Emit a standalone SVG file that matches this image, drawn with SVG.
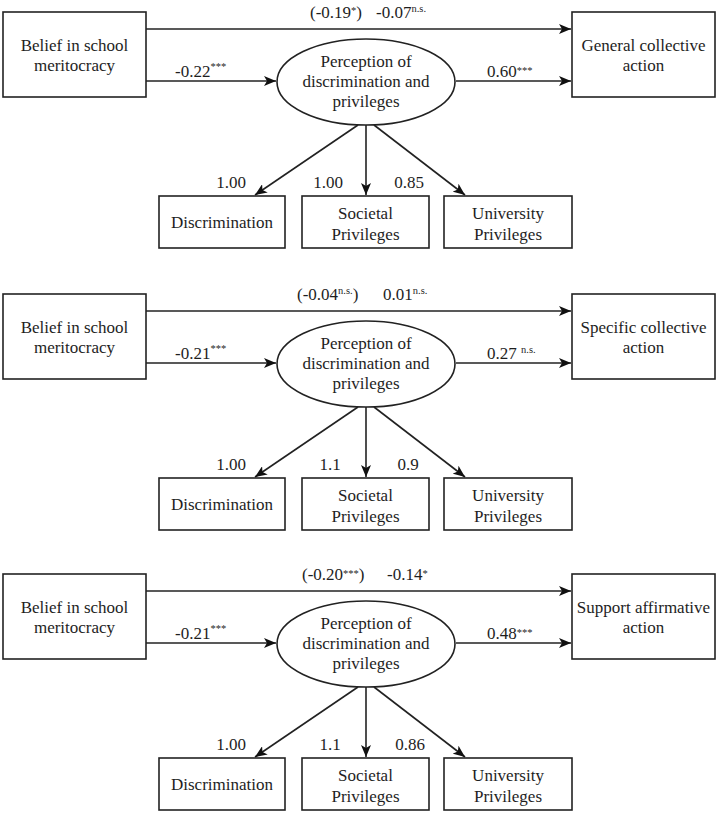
<svg xmlns="http://www.w3.org/2000/svg" width="718" height="819" viewBox="0 0 718 819" font-family="Liberation Serif, serif">
<style>
text{font-family:'Liberation Serif',serif;font-size:17px;fill:#1e1e1e}
.c{text-anchor:middle}
.s{font-size:10.5px}
.box{fill:#fff;stroke:#222;stroke-width:1.6}
.ell{fill:#fff;stroke:#222;stroke-width:1.6}
.ln{stroke:#222;stroke-width:1.6;fill:none;marker-end:url(#ah)}
</style>
<defs>
<marker id="ah" viewBox="0 0 12 10" refX="12" refY="5" markerWidth="12" markerHeight="10" orient="auto" markerUnits="userSpaceOnUse"><path d="M0,0 L12,5 L0,10 L3,5 z" fill="#111"/></marker>
</defs>

<!-- Panel 1 -->
<g id="panel1">
<g id="p1-connectors">
<line class="ln" x1="146" y1="29" x2="571" y2="29"/>
<line class="ln" x1="146" y1="81" x2="276" y2="81"/>
<line class="ln" x1="456" y1="81" x2="571" y2="81"/>
<line class="ln" x1="358" y1="125" x2="255" y2="195"/>
<line class="ln" x1="366" y1="125" x2="366" y2="195"/>
<line class="ln" x1="374" y1="125" x2="465" y2="195"/>
<text x="310" y="18">(-0.19<tspan class="s" dy="-4">*</tspan><tspan dy="4">)</tspan></text>
<text x="376" y="18">-0.07<tspan class="s" dy="-6">n.s.</tspan></text>
<text x="175" y="77">-0.22<tspan class="s" dy="-7">***</tspan></text>
<text x="487" y="77">0.60<tspan class="s" dy="-3">***</tspan></text>
<text class="c" x="231" y="188">1.00</text>
<text class="c" x="328" y="188">1.00</text>
<text class="c" x="409" y="188">0.85</text>
</g>
<g id="p1-belief"><rect class="box" x="3" y="12" width="143" height="85"/><text class="c" x="74.5" y="51">Belief in school</text><text class="c" x="74.5" y="71">meritocracy</text></g>
<g id="p1-outcome"><rect class="box" x="572" y="12" width="143" height="85"/><text class="c" x="643.5" y="51">General collective</text><text class="c" x="643.5" y="71">action</text></g>
<g id="p1-perception"><ellipse class="ell" cx="366" cy="82" rx="89" ry="43"/><text class="c" x="366" y="67">Perception of</text><text class="c" x="366" y="87">discrimination and</text><text class="c" x="366" y="107">privileges</text></g>
<g id="p1-discrimination"><rect class="box" x="159" y="196" width="126" height="52"/><text class="c" x="222" y="228">Discrimination</text></g>
<g id="p1-societal"><rect class="box" x="302" y="196" width="127" height="52"/><text class="c" x="365.5" y="219">Societal</text><text class="c" x="365.5" y="240">Privileges</text></g>
<g id="p1-university"><rect class="box" x="444" y="196" width="128" height="52"/><text class="c" x="508" y="219">University</text><text class="c" x="508" y="240">Privileges</text></g>
</g>

<!-- Panel 2 -->
<g id="panel2" transform="translate(0,282)">
<g id="p2-connectors">
<line class="ln" x1="146" y1="29" x2="571" y2="29"/>
<line class="ln" x1="146" y1="81" x2="276" y2="81"/>
<line class="ln" x1="456" y1="81" x2="571" y2="81"/>
<line class="ln" x1="358" y1="125" x2="255" y2="195"/>
<line class="ln" x1="366" y1="125" x2="366" y2="195"/>
<line class="ln" x1="374" y1="125" x2="465" y2="195"/>
<text x="297" y="18">(-0.04<tspan class="s" dy="-6">n.s.</tspan><tspan dy="6">)</tspan></text>
<text x="383" y="18">0.01<tspan class="s" dy="-6">n.s.</tspan></text>
<text x="175" y="77">-0.21<tspan class="s" dy="-7">***</tspan></text>
<text x="487" y="77">0.27 <tspan class="s" dy="-6">n.s.</tspan></text>
<text class="c" x="231" y="188">1.00</text>
<text class="c" x="330" y="188">1.1</text>
<text class="c" x="408" y="188">0.9</text>
</g>
<g id="p2-belief"><rect class="box" x="3" y="12" width="143" height="85"/><text class="c" x="74.5" y="51">Belief in school</text><text class="c" x="74.5" y="71">meritocracy</text></g>
<g id="p2-outcome"><rect class="box" x="572" y="12" width="143" height="85"/><text class="c" x="643.5" y="51">Specific collective</text><text class="c" x="643.5" y="71">action</text></g>
<g id="p2-perception"><ellipse class="ell" cx="366" cy="82" rx="89" ry="43"/><text class="c" x="366" y="67">Perception of</text><text class="c" x="366" y="87">discrimination and</text><text class="c" x="366" y="107">privileges</text></g>
<g id="p2-discrimination"><rect class="box" x="159" y="196" width="126" height="52"/><text class="c" x="222" y="228">Discrimination</text></g>
<g id="p2-societal"><rect class="box" x="302" y="196" width="127" height="52"/><text class="c" x="365.5" y="219">Societal</text><text class="c" x="365.5" y="240">Privileges</text></g>
<g id="p2-university"><rect class="box" x="444" y="196" width="128" height="52"/><text class="c" x="508" y="219">University</text><text class="c" x="508" y="240">Privileges</text></g>
</g>

<!-- Panel 3 -->
<g id="panel3" transform="translate(0,562)">
<g id="p3-connectors">
<line class="ln" x1="146" y1="29" x2="571" y2="29"/>
<line class="ln" x1="146" y1="81" x2="276" y2="81"/>
<line class="ln" x1="456" y1="81" x2="571" y2="81"/>
<line class="ln" x1="358" y1="125" x2="255" y2="195"/>
<line class="ln" x1="366" y1="125" x2="366" y2="195"/>
<line class="ln" x1="374" y1="125" x2="465" y2="195"/>
<text x="302" y="18">(-0.20<tspan class="s" dy="-3">***</tspan><tspan dy="3">)</tspan></text>
<text x="387" y="18">-0.14<tspan class="s" dy="-3">*</tspan></text>
<text x="175" y="77">-0.21<tspan class="s" dy="-7">***</tspan></text>
<text x="487" y="77">0.48<tspan class="s" dy="-3">***</tspan></text>
<text class="c" x="231" y="188">1.00</text>
<text class="c" x="330" y="188">1.1</text>
<text class="c" x="410" y="188">0.86</text>
</g>
<g id="p3-belief"><rect class="box" x="3" y="12" width="143" height="85"/><text class="c" x="74.5" y="51">Belief in school</text><text class="c" x="74.5" y="71">meritocracy</text></g>
<g id="p3-outcome"><rect class="box" x="572" y="12" width="143" height="85"/><text class="c" x="643.5" y="51">Support affirmative</text><text class="c" x="643.5" y="71">action</text></g>
<g id="p3-perception"><ellipse class="ell" cx="366" cy="82" rx="89" ry="43"/><text class="c" x="366" y="67">Perception of</text><text class="c" x="366" y="87">discrimination and</text><text class="c" x="366" y="107">privileges</text></g>
<g id="p3-discrimination"><rect class="box" x="159" y="196" width="126" height="52"/><text class="c" x="222" y="228">Discrimination</text></g>
<g id="p3-societal"><rect class="box" x="302" y="196" width="127" height="52"/><text class="c" x="365.5" y="219">Societal</text><text class="c" x="365.5" y="240">Privileges</text></g>
<g id="p3-university"><rect class="box" x="444" y="196" width="128" height="52"/><text class="c" x="508" y="219">University</text><text class="c" x="508" y="240">Privileges</text></g>
</g>
</svg>
